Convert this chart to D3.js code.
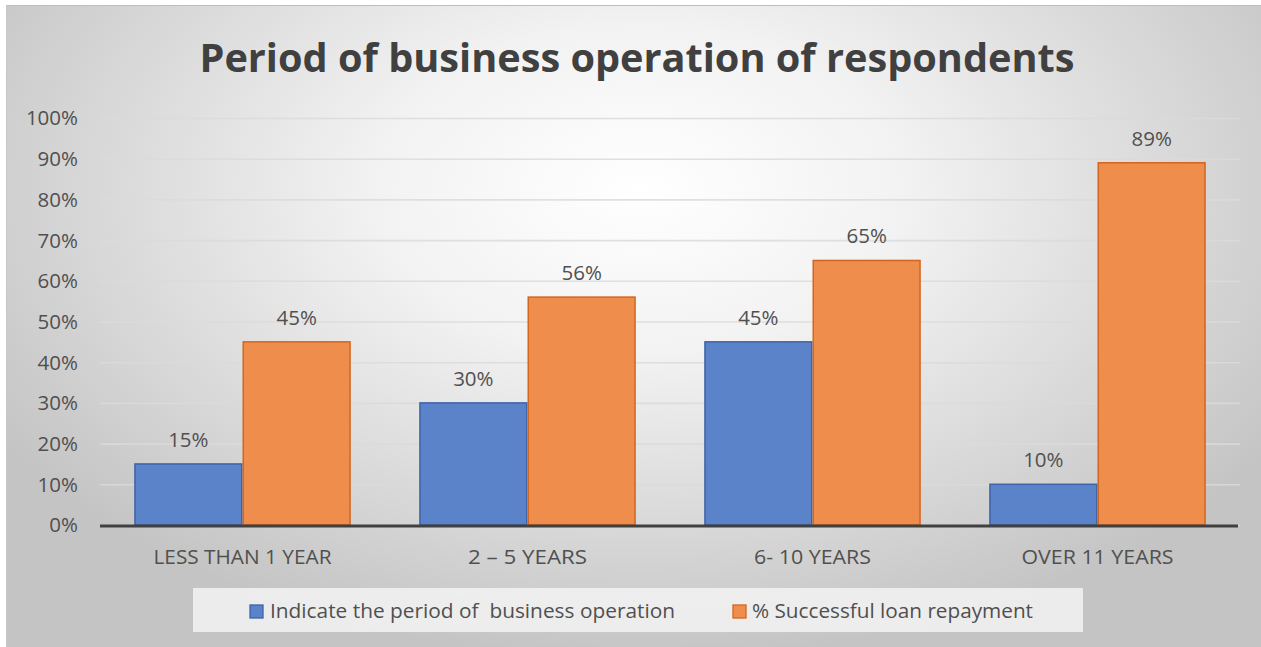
<!DOCTYPE html>
<html>
<head>
<meta charset="utf-8">
<script src="https://cdn.jsdelivr.net/npm/d3@7"></script>
<style>
  html, body { margin: 0; padding: 0; background: #ffffff; }
  svg { display: block; }
  text { font-family: "Open Sans", "Noto Sans", sans-serif; }
</style>
</head>
<body>
<svg id="chart" width="1261" height="647"></svg>
<script>
// Chart values
const title = "Period of business operation of respondents";
const categories = ["LESS THAN 1 YEAR", "2 \u2013 5 YEARS", "6- 10 YEARS", "OVER 11 YEARS"];
const seriesNames = ["Indicate the period of  business operation", "% Successful loan repayment"];
const periodShare = [15, 30, 45, 10];
const repaymentShare = [45, 56, 65, 89];
const yTicks = [0, 10, 20, 30, 40, 50, 60, 70, 80, 90, 100];

const fills = ["#5b83c9", "#ee8d4c"];
const strokes = ["#3e63a6", "#d3661f"];
const textColor = "#505050";

const svg = d3.select("#chart");
const W = 1261, H = 647;
const plot = { left: 100, right: 1240, top: 118, bottom: 525 };

// Background with soft radial shading
const defs = svg.append("defs");
const grad = defs.append("radialGradient")
  .attr("id", "bg").attr("gradientUnits", "userSpaceOnUse")
  .attr("cx", 640).attr("cy", 190).attr("r", 760)
  .attr("gradientTransform", "translate(640,190) scale(1,0.62) translate(-640,-190)");
grad.append("stop").attr("offset", "0").attr("stop-color", "#ffffff");
grad.append("stop").attr("offset", "0.35").attr("stop-color", "#f2f2f2");
grad.append("stop").attr("offset", "1").attr("stop-color", "#c4c4c4");

svg.append("rect").attr("x", 6).attr("y", 5).attr("width", W - 6).attr("height", H - 5)
  .attr("fill", "url(#bg)");
svg.append("line").attr("x1", 6).attr("x2", W).attr("y1", 5.5).attr("y2", 5.5)
  .attr("stroke", "#bdbdbd").attr("stroke-width", 1);
svg.append("line").attr("x1", 6.5).attr("x2", 6.5).attr("y1", 5).attr("y2", H)
  .attr("stroke", "#c8c8c8").attr("stroke-width", 1);

// Scales
const y = d3.scaleLinear().domain([0, 100]).range([plot.bottom, plot.top]);
const x0 = d3.scaleBand().domain(categories).range([plot.left, plot.right])
  .paddingInner(0.24).paddingOuter(0.12);
const x1 = d3.scaleBand().domain(seriesNames).range([0, x0.bandwidth()]);

// Gridlines and percentage ticks
const yAxis = d3.axisLeft(y).tickValues(yTicks).tickFormat(d => d + "%")
  .tickSize(-(plot.right - plot.left)).tickPadding(22);
const gy = svg.append("g").attr("transform", `translate(${plot.left},0)`).call(yAxis);
gy.select(".domain").remove();
gy.selectAll(".tick line").attr("stroke", "#dadada").attr("stroke-width", 1.6)
  .attr("stroke-opacity", 0.85);
gy.selectAll(".tick text").attr("fill", textColor).attr("font-size", 20.5)
  .attr("dy", "0.34em").attr("text-anchor", "end");

// Title
svg.append("text").attr("x", 637).attr("y", 72).attr("text-anchor", "middle")
  .attr("font-size", 39).attr("font-weight", 700).attr("fill", "#404040")
  .attr("textLength", 875).attr("lengthAdjust", "spacingAndGlyphs")
  .text(title);

// Bars
const rows = categories.map((c, i) => ({ cat: c, values: [periodShare[i], repaymentShare[i]] }));
const groups = svg.append("g").selectAll("g").data(rows).join("g")
  .attr("transform", d => `translate(${x0(d.cat)},0)`);

groups.selectAll("rect")
  .data(d => d.values.map((v, k) => ({ v, k, name: seriesNames[k] })))
  .join("rect")
  .attr("x", d => x1(d.name) + 0.75)
  .attr("width", x1.bandwidth() - 1.5)
  .attr("y", d => y(d.v))
  .attr("height", d => y(0) - y(d.v))
  .attr("fill", d => fills[d.k])
  .attr("stroke", d => strokes[d.k])
  .attr("stroke-width", 1.5);

groups.selectAll("text.val")
  .data(d => d.values.map((v, k) => ({ v, k, name: seriesNames[k] })))
  .join("text").attr("class", "val")
  .attr("x", d => x1(d.name) + x1.bandwidth() / 2)
  .attr("y", d => y(d.v) - 17)
  .attr("text-anchor", "middle").attr("font-size", 20.5).attr("fill", textColor)
  .text(d => d.v + "%");

// Category axis
svg.append("line").attr("x1", plot.left).attr("x2", plot.right - 2)
  .attr("y1", y(0) + 1).attr("y2", y(0) + 1)
  .attr("stroke", "#404040").attr("stroke-width", 3);

const catWidths = [178, 119, 117, 152];
svg.append("g").selectAll("text").data(categories).join("text")
  .attr("x", d => x0(d) + x0.bandwidth() / 2)
  .attr("y", 564)
  .attr("text-anchor", "middle").attr("font-size", 20).attr("fill", textColor)
  .attr("textLength", (d, i) => catWidths[i]).attr("lengthAdjust", "spacingAndGlyphs")
  .text(d => d);

// Legend
svg.append("rect").attr("x", 193).attr("y", 588).attr("width", 890).attr("height", 44)
  .attr("fill", "#f3f3f3").attr("fill-opacity", 0.85);
const legendItems = [
  { name: seriesNames[0], sx: 250, tx: 270, w: 405 },
  { name: seriesNames[1], sx: 733, tx: 752, w: 281 }
];
const lg = svg.append("g").selectAll("g").data(legendItems).join("g");
lg.append("rect").attr("x", d => d.sx).attr("y", 605).attr("width", 13).attr("height", 13)
  .attr("fill", (d, i) => fills[i]).attr("stroke", (d, i) => strokes[i]).attr("stroke-width", 1.3);
lg.append("text").attr("x", d => d.tx).attr("y", 618)
  .attr("font-size", 20.5).attr("fill", textColor)
  .attr("textLength", d => d.w).attr("lengthAdjust", "spacingAndGlyphs")
  .style("white-space", "pre")
  .text(d => d.name);
</script>
</body>
</html>
